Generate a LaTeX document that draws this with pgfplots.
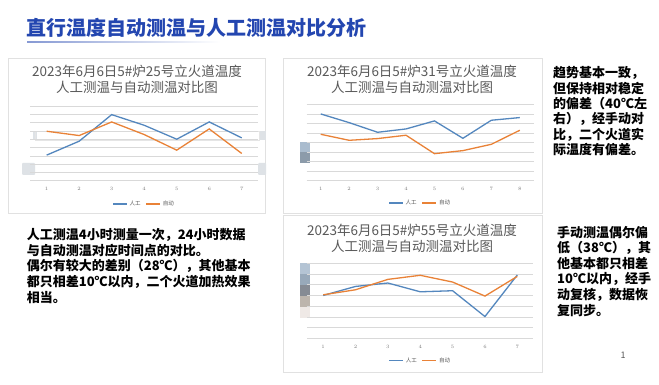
\documentclass[border=0pt]{standalone}
\usepackage{fontspec}
\setmainfont{Noto Sans CJK SC}
\usepackage{pgfplots}
\pgfplotsset{compat=1.18}
\definecolor{cblue}{RGB}{84,135,190}
\definecolor{corange}{RGB}{233,130,55}
\definecolor{tblue}{RGB}{35,70,176}
\definecolor{gridc}{RGB}{217,217,217}
\definecolor{tgray}{RGB}{89,89,89}
\definecolor{frm}{RGB}{225,225,225}
\definecolor{artA}{RGB}{222,226,230}
\definecolor{artB}{RGB}{170,188,206}
\definecolor{artC}{RGB}{140,155,170}
\definecolor{artD}{RGB}{180,196,212}
\definecolor{artE}{RGB}{152,169,186}
\definecolor{artF}{RGB}{134,139,148}
\definecolor{artG}{RGB}{189,181,173}
\definecolor{artH}{RGB}{239,233,230}

\pgfplotsset{chart/.style={
  scale only axis, xmin=0.5, ymin=0,
  axis line style={draw=none},
  tick style={draw=none},
  ymajorgrids, grid style={gridc, line width=0.6pt},
  yticklabel=\empty,
  xtick distance=1,
  xticklabel style={anchor=center, yshift=-8.3pt, font=\fontsize{5.5}{6}\selectfont, text=tgray!80},
  legend columns=2,
  legend style={draw=none, fill=none, anchor=center, font=\fontsize{5.5}{6}\selectfont, text=tgray,
    /tikz/every even column/.append style={column sep=3pt}},
  legend image code/.code={\draw[#1] (0pt,0pt)--(14pt,0pt);},
  every axis plot/.append style={line width=1.3pt, no marks},
}}

\begin{document}
\begin{tikzpicture}
\useasboundingbox[fill=white] (0pt,0pt) rectangle (659pt,-385pt);

% main title
\node[anchor=west, inner sep=0, text=tblue, font=\fontsize{20}{24}\selectfont\bfseries] at (26.7pt,-28.3pt) {直行温度自动测温与人工测温对比分析};
\shade[left color=tblue!55, right color=white] (27pt,-41.3pt) rectangle (220pt,-42.3pt);

% frames
\draw[frm, line width=0.6pt] (8pt,-58pt) rectangle (265pt,-213pt);
\draw[frm, line width=0.6pt] (283pt,-58pt) rectangle (542pt,-213pt);
\draw[frm, line width=0.6pt] (283pt,-215pt) rectangle (542pt,-372pt);

% decorative artifacts
\fill[artA, rounded corners=1pt] (22pt,-163pt) rectangle (35pt,-175pt);
\fill[artA, rounded corners=1pt] (258pt,-163pt) rectangle (266pt,-175pt);
\fill[artA] (33pt,-131pt) rectangle (37pt,-140pt);
\fill[artA] (260pt,-131pt) rectangle (266pt,-140pt);
\draw[gray!20, line width=0.5pt] (35pt,-131pt) rectangle (259pt,-140pt);
\fill[artB] (300pt,-141.7pt) rectangle (310pt,-152pt);
\fill[artC] (300pt,-152pt) rectangle (310pt,-163.3pt);
\fill[artD] (300pt,-263pt) rectangle (310pt,-274pt);
\fill[artE] (300pt,-274pt) rectangle (310pt,-285pt);
\fill[artF] (300pt,-285pt) rectangle (310pt,-296pt);
\fill[artG] (300pt,-296pt) rectangle (310pt,-307pt);
\fill[artH] (300pt,-307pt) rectangle (310pt,-318pt);

% chart titles
\begin{scope}[every node/.style={inner sep=0, text=tgray, font=\fontsize{13.5}{16}\selectfont}]
\node at (137pt,-71pt) {2023年6月6日5\#炉25号立火道温度};
\node at (137pt,-87.5pt) {人工测温与自动测温对比图};
\node at (412pt,-71pt) {2023年6月6日5\#炉31号立火道温度};
\node at (412pt,-87.5pt) {人工测温与自动测温对比图};
\node at (412pt,-230.5pt) {2023年6月6日5\#炉55号立火道温度};
\node at (412pt,-246.5pt) {人工测温与自动测温对比图};
\end{scope}

% chart 1
\begin{axis}[chart, at={(30.4pt,-180.7pt)}, anchor=south west,
  width=227.6pt, height=74.7pt, xmax=7.5, ymax=90, ytick distance=10,
  legend style={at={(0.5,-0.31)}}]
\addplot[cblue] coordinates {(1,30.8) (2,47.6) (3,79.6) (4,66.8) (5,50) (6,70.8) (7,51.6)};
\addplot[corange] coordinates {(1,59.6) (2,54.4) (3,70.8) (4,55.6) (5,36.8) (6,62.4) (7,32.8)};
\legend{人工,自动}
\end{axis}

% chart 2
\begin{axis}[chart, at={(306.5pt,-180.7pt)}, anchor=south west,
  width=227.5pt, height=76.4pt, xmax=8.5, ymax=80, ytick distance=10,
  legend style={at={(0.5,-0.29)}}]
\addplot[cblue] coordinates {(1,69.9) (2,60.8) (3,50.7) (4,54.2) (5,62.6) (6,44.4) (7,63.3) (8,66.1)};
\addplot[corange] coordinates {(1,48.6) (2,42.3) (3,44.1) (4,47.6) (5,28.3) (6,31.5) (7,38.1) (8,52.8)};
\legend{人工,自动}
\end{axis}

% chart 3
\begin{axis}[chart, at={(307pt,-338.3pt)}, anchor=south west,
  width=226.5pt, height=75pt, xmax=7.5, ymax=70, ytick distance=10,
  legend style={at={(0.5,-0.30)}}]
\addplot[cblue] coordinates {(1,40) (2,48.4) (3,51.6) (4,43.4) (5,44.4) (6,20.3) (7,59.1)};
\addplot[corange] coordinates {(1,40.6) (2,45.3) (3,55) (4,58.8) (5,52.5) (6,39.4) (7,57.8)};
\legend{人工,自动}
\end{axis}

% body texts
\begin{scope}[every node/.style={anchor=west, inner sep=0, text=black, font=\fontsize{13}{15}\selectfont\bfseries}]
\node at (26.7pt,-235pt) {人工测温4小时测量一次，24小时数据};
\node at (26.7pt,-250.6pt) {与自动测温对应时间点的对比。};
\node at (26.7pt,-266.2pt) {偶尔有较大的差别（28℃），其他基本};
\node at (26.7pt,-281.8pt) {都只相差10℃以内，二个火道加热效果};
\node at (26.7pt,-297.4pt) {相当。};

\node at (553pt,-73.3pt) {趋势基本一致，};
\node at (553pt,-88.6pt) {但保持相对稳定};
\node at (553pt,-103.9pt) {的偏差（40℃左};
\node at (553pt,-119.2pt) {右），经手动对};
\node at (553pt,-134.5pt) {比，二个火道实};
\node at (553pt,-149.8pt) {际温度有偏差。};

\node at (557pt,-232.7pt) {手动测温偶尔偏};
\node at (557pt,-248.2pt) {低（38℃），其};
\node at (557pt,-263.7pt) {他基本都只相差};
\node at (557pt,-279.2pt) {10℃以内，经手};
\node at (557pt,-294.7pt) {动复核，数据恢};
\node at (557pt,-310.2pt) {复同步。};
\end{scope}

\node[inner sep=0, text=tgray, font=\fontsize{9}{10}\selectfont] at (623pt,-355.7pt) {1};
\end{tikzpicture}
\end{document}
